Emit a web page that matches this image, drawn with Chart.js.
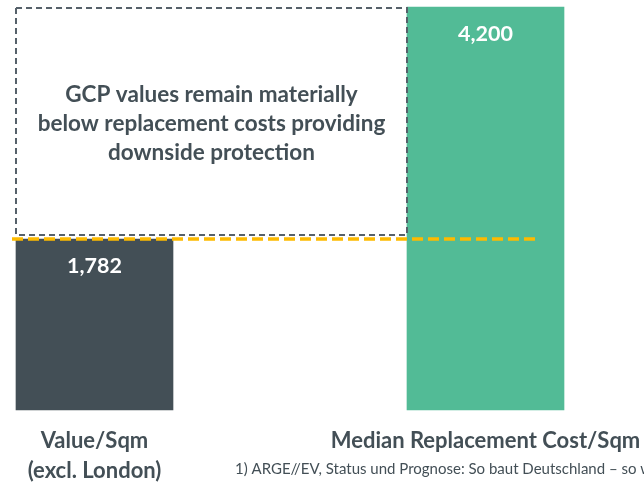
<!DOCTYPE html>
<html><head><meta charset="utf-8">
<script src="https://cdn.jsdelivr.net/npm/chart.js@4"></script>
<style>html,body{margin:0;padding:0;background:#fff;}#wrap{width:644px;height:482px;position:relative;}</style>
</head><body><div id="wrap"><canvas id="c" width="644" height="482"></canvas></div>
<script>
const categories = [['Value/Sqm', '(excl. London)'], ['Median Replacement Cost/Sqm']];
const values = [1782, 4200];
const valueLabels = ['1,782', '4,200'];
const barColors = ['#434f56', '#52bb96'];
const boxText = ['GCP values remain materially', 'below replacement costs providing', 'downside protection'];
const footnote = '1) ARGE//EV, Status und Prognose: So baut Deutschland – so wohnt Deutschland';
const yMax = 4200;

const FONT = 'Lato, "Open Sans", sans-serif';
const TEXT = '#434f56';
const BAR_W = 157;

const overlay = {
  id: 'overlay',
  afterDatasetsDraw(chart) {
    const ctx = chart.ctx, x = chart.scales.x, y = chart.scales.y;
    const meta = chart.getDatasetMeta(0);
    ctx.save();
    ctx.fillStyle = '#ffffff';
    ctx.font = 'bold 21.5px ' + FONT;
    ctx.textAlign = 'center'; ctx.textBaseline = 'middle';
    meta.data.forEach((b, i) => { ctx.fillText(valueLabels[i], b.x, b.y + 27); });
    const l = x.getPixelForValue(0) - BAR_W / 2, r = x.getPixelForValue(1) - BAR_W / 2;
    const t = y.getPixelForValue(values[1]) + 1, bt = y.getPixelForValue(values[0]) - 4;
    ctx.strokeStyle = '#56616a'; ctx.lineWidth = 2; ctx.setLineDash([6, 4]);
    ctx.strokeRect(l, t, r - l, bt - t);
    ctx.setLineDash([]);
    ctx.fillStyle = TEXT; ctx.font = 'bold 22.5px ' + FONT;
    const cx = (l + r) / 2;
    boxText.forEach((s, i) => ctx.fillText(s, cx, 95 + i * 29));
    const oy = y.getPixelForValue(values[0]);
    ctx.strokeStyle = '#fdba00'; ctx.lineWidth = 3.5; ctx.setLineDash([11, 5]);
    ctx.beginPath(); ctx.moveTo(12, oy); ctx.lineTo(536, oy); ctx.stroke();
    ctx.setLineDash([]);
    ctx.fillStyle = TEXT; ctx.font = '15px ' + FONT; ctx.textAlign = 'left';
    ctx.fillText(footnote, 235, 469);
    ctx.restore();
  }
};

new Chart(document.getElementById('c'), {
  type: 'bar',
  data: { labels: categories, datasets: [{ data: values, backgroundColor: barColors, barThickness: BAR_W, clip: false }] },
  options: {
    responsive: false, animation: false,
    layout: { padding: { left: 94.5, right: 158.5, top: 7, bottom: 0 } },
    plugins: { legend: { display: false }, tooltip: { enabled: false } },
    scales: {
      x: {
        offset: false,
        grid: { display: false, drawTicks: false }, border: { display: false },
        ticks: { color: TEXT, font: { family: FONT, size: 22, weight: 'bold', lineHeight: 1.35 }, padding: 16, maxRotation: 0, autoSkip: false },
        afterFit(s) { s.height = 72; s.paddingLeft = 0; s.paddingRight = 0; }
      },
      y: { display: false, min: 0, max: yMax }
    }
  },
  plugins: [overlay]
});
</script></body></html>
